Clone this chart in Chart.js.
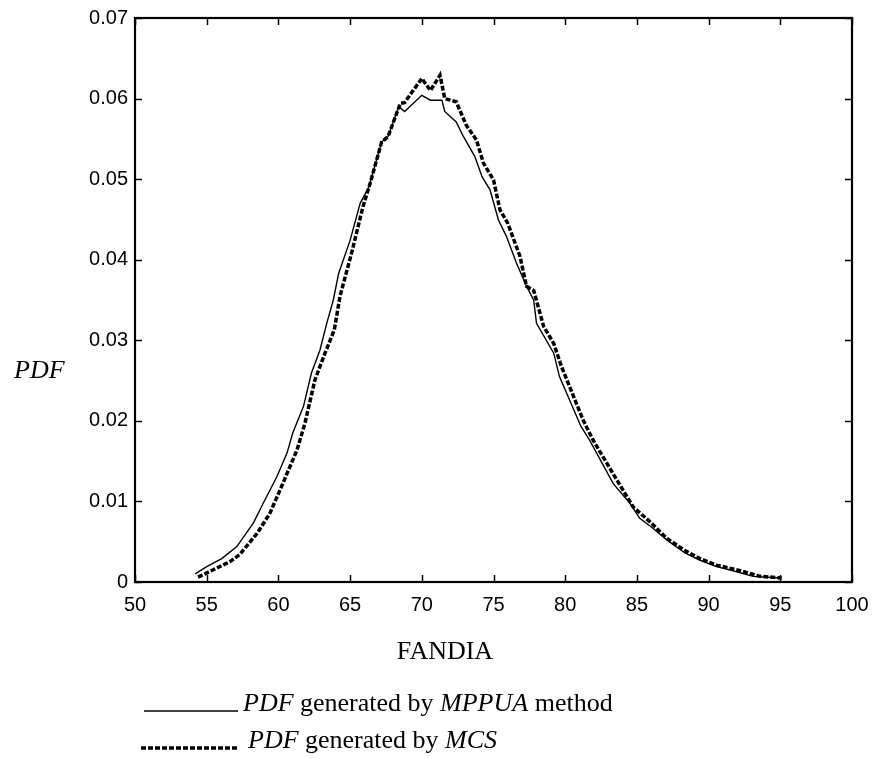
<!DOCTYPE html>
<html>
<head>
<meta charset="utf-8">
<script src="https://cdn.jsdelivr.net/npm/chart.js@4.4.1/dist/chart.umd.min.js"></script>
<style>
  html, body { margin: 0; padding: 0; background: #fff; }
  #wrap { width: 873px; height: 758px; }
</style>
</head>
<body>
<div id="wrap"><canvas id="pdfChart" width="873" height="758"></canvas></div>
<script>
// PDF generated by MPPUA method
const mppuaX = [54.2, 55.0, 56.05, 57.1, 58.25, 58.95, 59.9, 60.6, 61.0, 61.75, 62.3, 62.9, 63.37, 63.83, 64.2, 65.0, 65.7, 66.3, 67.2, 67.65, 68.4, 68.8, 70.0, 70.6, 71.4, 71.6, 72.4, 72.9, 73.7, 74.2, 74.75, 75.35, 75.9, 76.6, 77.3, 77.8, 78.0, 79.2, 79.6, 81.1, 81.7, 83.35, 84.5, 85.2, 86.1, 87.1, 88.35, 89.4, 90.55, 91.7, 93.1, 95.0];
const mppuaY = [0.0010, 0.0019, 0.0029, 0.0044, 0.0073, 0.0098, 0.0131, 0.0160, 0.0185, 0.0218, 0.0259, 0.0288, 0.0321, 0.0350, 0.0383, 0.0424, 0.0470, 0.0490, 0.0546, 0.0553, 0.0590, 0.0584, 0.0604, 0.0598, 0.0598, 0.0584, 0.0571, 0.0553, 0.0528, 0.0503, 0.0487, 0.0449, 0.0429, 0.0396, 0.0367, 0.0350, 0.0321, 0.0284, 0.0255, 0.0193, 0.0176, 0.0122, 0.0098, 0.0079, 0.0067, 0.0052, 0.0036, 0.0027, 0.0019, 0.0014, 0.0007, 0.0005];

// PDF generated by MCS
const mcsX = [54.4, 55.2, 56.6, 57.3, 58.5, 59.4, 60.35, 61.3, 61.85, 62.55, 63.25, 63.9, 64.3, 65.1, 65.9, 66.4, 67.2, 67.65, 68.5, 68.8, 70.0, 70.6, 71.27, 71.6, 72.4, 73.1, 73.8, 74.3, 75.0, 75.45, 76.0, 76.85, 77.3, 77.8, 78.5, 79.2, 79.75, 81.25, 81.95, 83.45, 84.75, 85.9, 87.1, 88.45, 89.4, 90.55, 92.2, 93.6, 95.1];
const mcsY = [0.0006, 0.0013, 0.0025, 0.0034, 0.0060, 0.0085, 0.0124, 0.0164, 0.0197, 0.0251, 0.0284, 0.0313, 0.0355, 0.0408, 0.0466, 0.0495, 0.0546, 0.0553, 0.0594, 0.0595, 0.0625, 0.0610, 0.0629, 0.0600, 0.0596, 0.0567, 0.0549, 0.0520, 0.0499, 0.0462, 0.0445, 0.0404, 0.0367, 0.0362, 0.0317, 0.0296, 0.0267, 0.0201, 0.0176, 0.0131, 0.0093, 0.0075, 0.0054, 0.0038, 0.0029, 0.0021, 0.0014, 0.0007, 0.0005];

const xTicks = [50, 55, 60, 65, 70, 75, 80, 85, 90, 95, 100];
const yTicks = [0, 0.01, 0.02, 0.03, 0.04, 0.05, 0.06, 0.07];

const SANS = '"Liberation Sans", Arial, sans-serif';
const SERIF = '"Liberation Serif", "Times New Roman", serif';

const toPoints = (xs, ys) => xs.map((x, i) => ({ x: x, y: ys[i] }));

// frame with inward ticks on all four sides, like the matlab figure
const framePlugin = {
    id: 'frame',
    afterDraw(chart) {
        const { ctx, chartArea: a, scales } = chart;
        const tl = 7;
        ctx.save();
        ctx.strokeStyle = '#000';
        ctx.lineWidth = 1.5;
        ctx.beginPath();
        xTicks.forEach(v => {
            const px = Math.round(scales.x.getPixelForValue(v)) + 0.5;
            ctx.moveTo(px, a.bottom); ctx.lineTo(px, a.bottom - tl);
            ctx.moveTo(px, a.top); ctx.lineTo(px, a.top + tl);
        });
        yTicks.forEach(v => {
            const py = Math.round(scales.y.getPixelForValue(v)) + 0.5;
            ctx.moveTo(a.left, py); ctx.lineTo(a.left + tl, py);
            ctx.moveTo(a.right, py); ctx.lineTo(a.right - tl, py);
        });
        ctx.stroke();
        ctx.lineWidth = 2.2;
        ctx.strokeRect(a.left, a.top, a.right - a.left, a.bottom - a.top);
        ctx.restore();
    }
};

// axis titles and the legend under the chart
function drawRuns(ctx, x, y, runs) {
    runs.forEach(r => {
        ctx.font = (r[1] ? 'italic ' : '') + '26px ' + SERIF;
        ctx.fillText(r[0], x, y);
        x += ctx.measureText(r[0]).width;
    });
}

const textPlugin = {
    id: 'texts',
    afterDraw(chart) {
        const ctx = chart.ctx;
        ctx.save();
        ctx.fillStyle = '#000';
        ctx.textBaseline = 'alphabetic';

        ctx.font = 'italic 26px ' + SERIF;
        ctx.textAlign = 'left';
        ctx.fillText('PDF', 14, 378);

        ctx.font = '26px ' + SERIF;
        ctx.textAlign = 'center';
        ctx.fillText('FANDIA', 445, 659);

        ctx.textAlign = 'left';
        ctx.strokeStyle = '#000';
        ctx.lineWidth = 1.6;
        ctx.beginPath();
        ctx.moveTo(144, 711); ctx.lineTo(238, 711);
        ctx.stroke();
        ctx.lineWidth = 3.5;
        ctx.setLineDash([5, 2]);
        ctx.beginPath();
        ctx.moveTo(141, 748); ctx.lineTo(237, 748);
        ctx.stroke();
        ctx.setLineDash([]);

        drawRuns(ctx, 243, 711, [['PDF', true], [' generated by ', false], ['MPPUA', true], [' method', false]]);
        drawRuns(ctx, 248, 748, [['PDF', true], [' generated by ', false], ['MCS', true]]);
        ctx.restore();
    }
};

new Chart(document.getElementById('pdfChart'), {
    type: 'scatter',
    data: {
        datasets: [
            {
                label: 'PDF generated by MPPUA method',
                data: toPoints(mppuaX, mppuaY),
                showLine: true,
                borderColor: '#000',
                borderWidth: 1.4,
                pointRadius: 0,
                tension: 0
            },
            {
                label: 'PDF generated by MCS',
                data: toPoints(mcsX, mcsY),
                showLine: true,
                borderColor: '#000',
                borderWidth: 3.5,
                borderDash: [5, 2],
                pointRadius: 0,
                tension: 0
            }
        ]
    },
    options: {
        responsive: false,
        animation: false,
        layout: { padding: { top: 18, right: 21, left: 0, bottom: 0 } },
        plugins: {
            legend: { display: false },
            tooltip: { enabled: false }
        },
        scales: {
            x: {
                type: 'linear',
                min: 50,
                max: 100,
                afterFit: s => { s.height = 176; s.paddingLeft = 0; s.paddingRight = 0; },
                afterBuildTicks: s => { s.ticks = xTicks.map(v => ({ value: v })); },
                grid: { display: false, drawTicks: false },
                border: { display: false },
                ticks: { color: '#000', font: { family: SANS, size: 20 }, padding: 11, maxRotation: 0 }
            },
            y: {
                type: 'linear',
                min: 0,
                max: 0.07,
                afterFit: s => { s.width = 135; s.paddingTop = 0; s.paddingBottom = 0; },
                afterBuildTicks: s => { s.ticks = yTicks.map(v => ({ value: v })); },
                grid: { display: false, drawTicks: false },
                border: { display: false },
                ticks: {
                    color: '#000',
                    font: { family: SANS, size: 20 },
                    padding: 7,
                    callback: v => v === 0 ? '0' : v.toFixed(2)
                }
            }
        }
    },
    plugins: [framePlugin, textPlugin]
});
</script>
</body>
</html>
